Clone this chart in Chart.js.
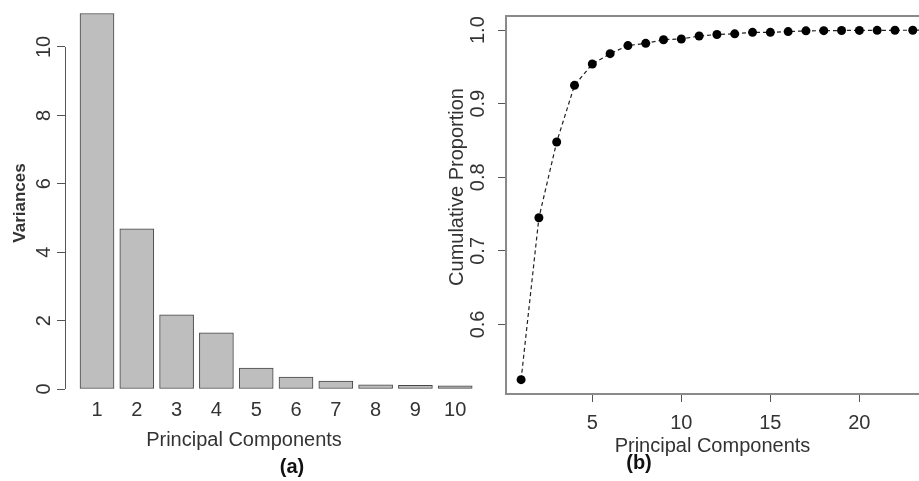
<!DOCTYPE html>
<html><head><meta charset="utf-8">
<script src="https://cdn.jsdelivr.net/npm/chart.js@4"></script>
<style>
html,body{margin:0;padding:0;background:#fff;width:919px;height:481px;overflow:hidden;position:relative;font-family:"Liberation Sans",Arial,sans-serif;}
#ca{position:absolute;left:0;top:0;}
#cb{position:absolute;left:430px;top:0;}
.cap{position:absolute;font-weight:bold;font-size:20px;line-height:1;color:#111;transform:translate(-50%,-50%);white-space:nowrap;}
</style></head><body>
<canvas id="ca" width="488" height="481"></canvas>
<canvas id="cb" width="489" height="481"></canvas>
<div class="cap" style="left:292px;top:466px">(a)</div>
<div class="cap" style="left:639px;top:462px">(b)</div>
<script>
// ---- data: panel (a) ----
const components = ['1','2','3','4','5','6','7','8','9','10'];
const variances = [10.98, 4.68, 2.17, 1.64, 0.61, 0.35, 0.23, 0.12, 0.11, 0.09];
const varianceTicks = [0, 2, 4, 6, 8, 10];
// ---- data: panel (b) ----
const cumComponents = [1,2,3,4,5,6,7,8,9,10,11,12,13,14,15,16,17,18,19,20,21,22,23,24];
const cumulativeProportion = [0.525, 0.745, 0.848, 0.925, 0.954, 0.968, 0.979, 0.982, 0.987, 0.988, 0.992, 0.994, 0.995, 0.997, 0.997, 0.998, 0.999, 0.9993, 0.9995, 0.9996, 0.9997, 0.9998, 0.9999, 1.0];
const cumXTicks = [5, 10, 15, 20];
const cumYTicks = [0.6, 0.7, 0.8, 0.9, 1.0];

const FONT = '"Liberation Sans", Arial, sans-serif';
const TXT = '#333';
const AXC = '#555';

function noPad(s) { s.paddingLeft = 0; s.paddingRight = 0; s.paddingTop = 0; s.paddingBottom = 0; }

const axisLinePlugin = {
  id: 'axisLine',
  afterDraw(chart, args, opts) {
    const y = chart.scales.y, t = y.ticks, ctx = chart.ctx;
    const x = Math.round(chart.chartArea.left) + 0.5;
    ctx.save();
    ctx.strokeStyle = opts.color; ctx.lineWidth = opts.width;
    ctx.beginPath();
    ctx.moveTo(x, y.getPixelForValue(t[0].value));
    ctx.lineTo(x, y.getPixelForValue(t[t.length - 1].value));
    ctx.stroke();
    ctx.restore();
  }
};
const plotBoxPlugin = {
  id: 'plotBox',
  beforeDatasetsDraw(chart, args, opts) {
    const a = chart.chartArea, ctx = chart.ctx;
    ctx.save();
    ctx.strokeStyle = opts.color; ctx.lineWidth = opts.width;
    ctx.strokeRect(a.left, a.top, a.right - a.left + 10, a.bottom - a.top);
    ctx.restore();
  }
};
// y-axis title placed at a given centre (the reference's titles are not centred on the plot)
const sideTitlePlugin = {
  id: 'sideTitle',
  afterDraw(chart, args, opts) {
    const ctx = chart.ctx;
    ctx.save();
    ctx.translate(opts.x, opts.y);
    ctx.rotate(-Math.PI / 2);
    ctx.font = opts.font;
    ctx.fillStyle = opts.color;
    ctx.textAlign = 'center';
    ctx.textBaseline = 'middle';
    ctx.fillText(opts.text, 0, 0);
    ctx.restore();
  }
};

// ---------- Panel (a) ----------
new Chart(document.getElementById('ca'), {
  type: 'bar',
  data: {
    datasets: [{
      data: variances.map((v, i) => ({x: i + 1, y: v})),
      backgroundColor: '#bebebe',
      borderColor: '#444',
      borderWidth: 1,
      borderSkipped: false,
      barThickness: 34
    }]
  },
  plugins: [axisLinePlugin, sideTitlePlugin],
  options: {
    responsive: false, animation: false, devicePixelRatio: 1,
    layout: {autoPadding: false, padding: {top: 5, right: 0, left: 0, bottom: 0}},
    plugins: {
      legend: {display: false}, tooltip: {enabled: false},
      axisLine: {color: AXC, width: 1},
      sideTitle: {text: 'Variances', x: 20, y: 203, color: TXT, font: 'bold 17px ' + FONT},
      title: {display: true, position: 'bottom', text: 'Principal Components',
        color: TXT, font: {family: FONT, size: 20, weight: 'normal'}, padding: {top: 0, bottom: 29}}
    },
    scales: {
      x: {
        type: 'linear', min: 0.196, max: 10.824, offset: false,
        afterBuildTicks: s => { s.ticks = components.map((c, i) => ({value: i + 1})); },
        afterFit: s => { s.height = 39; noPad(s); },
        grid: {display: false, drawTicks: false, offset: false},
        border: {display: false},
        ticks: {autoSkip: false, maxRotation: 0, padding: 9.5, color: TXT,
          font: {family: FONT, size: 20}, callback: (v) => components[Math.round(v) - 1]}
      },
      y: {
        min: 0, max: 11.228,
        afterBuildTicks: s => { s.ticks = varianceTicks.map(v => ({value: v})); },
        afterFit: s => { s.width = 65; noPad(s); },
        grid: {display: true, drawOnChartArea: false, drawTicks: true, tickLength: 8, color: AXC},
        border: {display: false},
        ticks: {minRotation: 90, maxRotation: 90, crossAlign: 'center', padding: 1, color: TXT,
          font: {family: FONT, size: 20}, callback: v => String(v)}
      }
    }
  }
});

// ---------- Panel (b) ----------
new Chart(document.getElementById('cb'), {
  type: 'line',
  data: {
    datasets: [{
      data: cumulativeProportion.map((v, i) => ({x: cumComponents[i], y: v})),
      borderColor: '#222',
      borderWidth: 1.2,
      borderDash: [4, 3],
      tension: 0,
      pointRadius: 4.5,
      pointBackgroundColor: '#000',
      pointBorderColor: '#000',
      pointBorderWidth: 0,
      fill: false
    }]
  },
  plugins: [plotBoxPlugin, sideTitlePlugin],
  options: {
    responsive: false, animation: false, devicePixelRatio: 1,
    layout: {autoPadding: false, padding: {top: 16, right: 0, left: 0, bottom: 0}},
    plugins: {
      legend: {display: false}, tooltip: {enabled: false},
      plotBox: {color: '#8a8a8a', width: 2},
      sideTitle: {text: 'Cumulative Proportion', x: 27, y: 187, color: TXT, font: '20px ' + FONT}
    },
    scales: {
      x: {
        type: 'linear', min: 0.152, max: 23.35,
        afterBuildTicks: s => { s.ticks = cumXTicks.map(v => ({value: v})); },
        afterFit: s => { s.height = 87; noPad(s); },
        grid: {display: true, drawOnChartArea: false, drawTicks: true, tickLength: 8, color: AXC},
        border: {display: false},
        ticks: {autoSkip: false, maxRotation: 0, padding: 9, color: TXT,
          font: {family: FONT, size: 20}, callback: v => String(v)},
        title: {display: true, text: 'Principal Components', color: TXT,
          font: {family: FONT, size: 20, weight: 'normal'}, padding: {top: 0, bottom: 23}}
      },
      y: {
        min: 0.5055, max: 1.0192,
        afterBuildTicks: s => { s.ticks = cumYTicks.map(v => ({value: v})); },
        afterFit: s => { s.width = 76; noPad(s); },
        grid: {display: true, drawOnChartArea: false, drawTicks: true, tickLength: 8, color: AXC},
        border: {display: false},
        ticks: {minRotation: 90, maxRotation: 90, crossAlign: 'center', padding: 6, color: TXT,
          font: {family: FONT, size: 20}, callback: v => v.toFixed(1)}
      }
    }
  }
});
</script>
</body></html>
